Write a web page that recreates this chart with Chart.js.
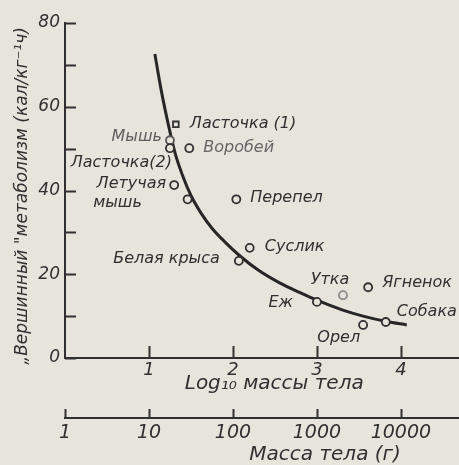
<!DOCTYPE html>
<html>
<head>
<meta charset="utf-8">
<script src="https://cdn.jsdelivr.net/npm/chart.js@4"></script>
<style>
  html, body { margin: 0; padding: 0; background: #e7e4dc; overflow: hidden; }
  #wrap { width: 459px; height: 465px; position: relative; }
</style>
</head>
<body>
<div id="wrap"><canvas id="c"></canvas></div>
<script>
// ---- data ----
const animalNames = ['Ласточка (1)', 'Мышь', 'Ласточка(2)', 'Воробей', 'Летучая\nмышь', '', 'Перепел', 'Белая крыса', 'Суслик', 'Еж', 'Утка', 'Ягненок', 'Орел', 'Собака'];
const animalLogMass = [1.32, 1.25, 1.25, 1.48, 1.30, 1.46, 2.04, 2.07, 2.20, 3.00, 3.31, 3.61, 3.55, 3.82];
const animalRate = [55.8, 52.0, 50.1, 50.1, 41.3, 37.9, 37.9, 23.2, 26.3, 13.4, 15.0, 16.9, 7.9, 8.6];

const curveLogMass = [1.07, 1.15, 1.23, 1.31, 1.40, 1.50, 1.62, 1.75, 1.90, 2.07, 2.30, 2.55, 2.80, 3.00, 3.30, 3.55, 3.83, 4.07];
const curveRate = [72.6, 63.5, 55.8, 49.0, 43.6, 38.8, 34.6, 31.0, 27.8, 24.6, 21.0, 18.0, 15.6, 13.8, 11.5, 10.0, 8.7, 7.9];

const logTickValues = [1, 2, 3, 4];
const logTickLabels = ['1', '2', '3', '4'];
const massTickValues = [0, 1, 2, 3, 4];
const massTickLabels = ['1', '10', '100', '1000', '10000'];
const rateTickValues = [0, 10, 20, 30, 40, 50, 60, 70, 80];
const rateTickLabels = ['0', '', '20', '', '40', '', '60', '', '80'];

const yTitle = '„Вершинный "метаболизм (кал/кг⁻¹ч)';
const xTitle = 'Log₁₀ массы тела';
const x2Title = 'Масса тела (г)';

// ---- styles ----
const BG = '#e7e4dc';
const INK = '#303030';
const FONT = "'DejaVu Sans', sans-serif";

const animalPoints = animalLogMass.map((x, i) => ({ x: x, y: animalRate[i] }));
const curvePoints = curveLogMass.map((x, i) => ({ x: x, y: curveRate[i] }));

// label placement (pixel offsets from the marker), kept in drawing code
const labelPlacement = [
  [[14, 0, 'left']],
  [[-8, -3, 'right']],
  [[2, 15, 'right']],
  [[14, 0, 'left']],
  [[-8, -1, 'right'], [-81, 18, 'left']],
  [],
  [[14, -1, 'left']],
  [[-19, -2, 'right']],
  [[15, -1, 'left']],
  [[-24, 1, 'right']],
  [[-13, -15, 'center']],
  [[14, -4, 'left']],
  [[-3, 13, 'right']],
  [[11, -10, 'left']]
];
const labelColors = [INK, '#5e5e5e', INK, '#666666', INK, INK, INK, INK, INK, INK, INK, INK, INK, INK];

const tickMarks = {
  id: 'tickMarks',
  afterDraw(chart) {
    const ctx = chart.ctx;
    const y = chart.scales.y, x = chart.scales.x, x2 = chart.scales.x2;
    ctx.save();
    ctx.strokeStyle = INK;
    ctx.lineWidth = 2;
    ctx.beginPath();
    rateTickValues.forEach(v => {
      const py = Math.round(y.getPixelForValue(v)) + 0.5;
      ctx.moveTo(y.right, py); ctx.lineTo(y.right + 11, py);
    });
    logTickValues.forEach(v => {
      const px = Math.round(x.getPixelForValue(v)) + 0.5;
      ctx.moveTo(px, x.top); ctx.lineTo(px, x.top - 12);
    });
    massTickValues.forEach(v => {
      const px = Math.round(x2.getPixelForValue(v)) + 0.5;
      ctx.moveTo(px, x2.top); ctx.lineTo(px, x2.top - 9);
    });
    ctx.stroke();
    ctx.restore();
  }
};

const pointLabels = {
  id: 'pointLabels',
  afterDatasetsDraw(chart) {
    const ctx = chart.ctx;
    const meta = chart.getDatasetMeta(0);
    ctx.save();
    ctx.font = 'italic 16px ' + FONT;
    ctx.textBaseline = 'middle';
    animalNames.forEach((name, i) => {
      if (!name) return;
      const el = meta.data[i];
      const lines = name.split('\n');
      lines.forEach((line, j) => {
        const p = labelPlacement[i][j];
        if (!p) return;
        ctx.fillStyle = labelColors[i];
        ctx.textAlign = p[2];
        ctx.fillText(line, el.x + p[0], el.y + p[1]);
      });
    });
    ctx.restore();
  }
};

function noEdgePadding(s) {
  s.paddingLeft = 0; s.paddingRight = 0; s.paddingTop = 0; s.paddingBottom = 0;
}

new Chart(document.getElementById('c'), {
  type: 'scatter',
  data: {
    datasets: [
      {
        data: animalPoints,
        pointRadius: 4,
        pointStyle: ['rect', 'circle', 'circle', 'circle', 'circle', 'circle', 'circle', 'circle', 'circle', 'circle', 'circle', 'circle', 'circle', 'circle'],
        pointBorderWidth: 1.8,
        pointBackgroundColor: BG,
        pointBorderColor: [INK, '#555', INK, INK, INK, INK, INK, INK, INK, INK, '#8a8a8a', INK, INK, INK],
        showLine: false
      },
      {
        data: curvePoints,
        showLine: true,
        pointRadius: 0,
        borderColor: '#262626',
        borderWidth: 3,
        cubicInterpolationMode: 'monotone',
        fill: false
      }
    ]
  },
  options: {
    responsive: true,
    maintainAspectRatio: false,
    animation: false,
    events: [],
    layout: { autoPadding: false, padding: { top: 23, right: 1, left: 0, bottom: 0 } },
    plugins: { legend: { display: false }, tooltip: { enabled: false } },
    scales: {
      x: {
        type: 'linear', position: 'bottom', min: 0, max: 4.68, weight: 0,
        afterBuildTicks: s => { s.ticks = logTickValues.map(v => ({ value: v })); },
        afterFit: s => { s.height = 60; noEdgePadding(s); },
        grid: { drawOnChartArea: false, drawTicks: false },
        border: { display: true, color: INK, width: 2 },
        ticks: {
          padding: 2, color: INK, font: { family: FONT, size: 18, style: 'italic' },
          maxRotation: 0, autoSkip: false,
          callback: (v) => { const k = logTickValues.indexOf(v); return k >= 0 ? logTickLabels[k] : ''; }
        },
        title: { display: true, text: '    ' + xTitle, color: INK, font: { family: FONT, size: 20, style: 'italic' }, padding: { top: 22, bottom: 22 } }
      },
      x2: {
        type: 'linear', position: 'bottom', min: 0, max: 4.68, weight: 10,
        afterBuildTicks: s => { s.ticks = massTickValues.map(v => ({ value: v })); },
        afterFit: s => { s.height = 47; noEdgePadding(s); },
        grid: { drawOnChartArea: false, drawTicks: false },
        border: { display: true, color: INK, width: 2 },
        ticks: {
          padding: 4, color: INK, font: { family: FONT, size: 19, style: 'italic' },
          maxRotation: 0, autoSkip: false,
          callback: (v) => { const k = massTickValues.indexOf(v); return k >= 0 ? massTickLabels[k] : ''; }
        },
        title: { display: true, text: '                    ' + x2Title, color: INK, font: { family: FONT, size: 20, style: 'italic', lineHeight: 1.0 }, padding: { top: 0, bottom: 0 } }
      },
      y: {
        type: 'linear', position: 'left', min: 0, max: 80,
        afterBuildTicks: s => { s.ticks = rateTickValues.map(v => ({ value: v })); },
        afterFit: s => { s.width = 65; noEdgePadding(s); },
        grid: { drawOnChartArea: false, drawTicks: false },
        border: { display: true, color: INK, width: 2 },
        ticks: {
          padding: 5, color: INK, font: { family: FONT, size: 17, style: 'italic' },
          autoSkip: false,
          callback: (v) => { const k = rateTickValues.indexOf(v); return k >= 0 ? rateTickLabels[k] : ''; }
        },
        title: { display: true, text: yTitle + '  ', color: INK, font: { family: FONT, size: 17, style: 'italic' }, padding: { top: 12, bottom: 12 } }
      }
    }
  },
  plugins: [tickMarks, pointLabels]
});
</script>
</body>
</html>
